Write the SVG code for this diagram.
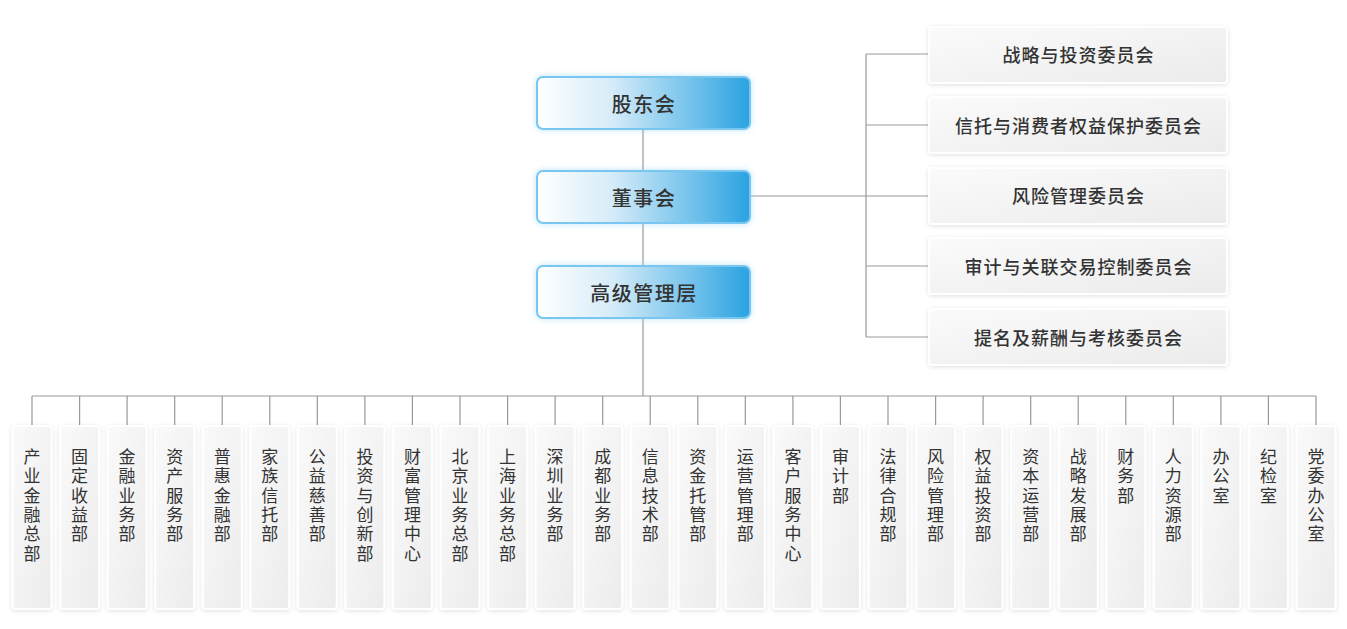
<svg xmlns="http://www.w3.org/2000/svg" width="1347" height="629" viewBox="0 0 1347 629">
<defs>
<linearGradient id="gBlue" x1="0" y1="0" x2="1" y2="0">
<stop offset="0" stop-color="#ffffff"/>
<stop offset="0.35" stop-color="#d6ecf9"/>
<stop offset="1" stop-color="#2aa3e1"/>
</linearGradient>
<linearGradient id="gGray" x1="0" y1="0" x2="1" y2="1">
<stop offset="0" stop-color="#fbfbfb"/>
<stop offset="1" stop-color="#ebebeb"/>
</linearGradient>
<linearGradient id="gCol" x1="0" y1="0" x2="1" y2="1">
<stop offset="0" stop-color="#fafafa"/>
<stop offset="1" stop-color="#ececec"/>
</linearGradient>
<filter id="glow" x="-20%" y="-50%" width="140%" height="200%">
<feDropShadow dx="0" dy="0" stdDeviation="3" flood-color="#8fd0f5" flood-opacity="0.6"/>
</filter>
<filter id="shadow" x="-20%" y="-20%" width="140%" height="140%">
<feDropShadow dx="0" dy="1" stdDeviation="2" flood-color="#000" flood-opacity="0.12"/>
</filter>
</defs>
<style>
.ln{stroke:#999;stroke-width:1.2;fill:none}
.top{fill:url(#gBlue);stroke:#79c6f0;stroke-width:2;filter:url(#glow)}
.cm{fill:url(#gGray);stroke:#fff;stroke-width:2;filter:url(#shadow)}
.col{fill:url(#gCol);stroke:#fff;stroke-width:2;filter:url(#shadow)}
text{font-family:"Noto Sans CJK SC","Noto Sans",sans-serif;fill:#333}
.t1{font-size:20px;font-weight:500;letter-spacing:1.5px;text-anchor:middle;dominant-baseline:central}
.t2{font-size:18px;font-weight:500;letter-spacing:1px;text-anchor:middle;dominant-baseline:central}
.t3{font-size:17px;text-anchor:middle}
</style>
<rect width="1347" height="629" fill="#fff"/>
<g id="connectors">
<path class="ln" d="M643 129V171M643 223V266M643 318V396M751 196H866M866 54V337M866 54H929M866 125H929M866 196H929M866 266H929M866 337H929"/>
<path class="ln" d="M32 396H1316M32 396V426M79.6 396V426M127.1 396V426M174.7 396V426M222.2 396V426M269.8 396V426M317.3 396V426M364.9 396V426M412.4 396V426M460 396V426M507.6 396V426M555.1 396V426M602.7 396V426M650.2 396V426M697.8 396V426M745.3 396V426M792.9 396V426M840.4 396V426M888 396V426M935.6 396V426M983.1 396V426M1030.7 396V426M1078.2 396V426M1125.8 396V426M1173.3 396V426M1220.9 396V426M1268.4 396V426M1316 396V426"/>
</g>
<g id="n-gudonghui"><rect class="top" x="537" y="77" width="213" height="52" rx="6"/><text class="t1" x="644" y="103">股东会</text></g>
<g id="n-dongshihui"><rect class="top" x="537" y="171" width="213" height="52" rx="6"/><text class="t1" x="644" y="197">董事会</text></g>
<g id="n-gaoguan"><rect class="top" x="537" y="266" width="213" height="52" rx="6"/><text class="t1" x="644" y="292">高级管理层</text></g>
<g id="c1"><rect class="cm" x="929" y="27" width="298" height="56" rx="3"/><text class="t2" x="1078.5" y="54">战略与投资委员会</text></g>
<g id="c2"><rect class="cm" x="929" y="97" width="298" height="56" rx="3"/><text class="t2" x="1078.5" y="125">信托与消费者权益保护委员会</text></g>
<g id="c3"><rect class="cm" x="929" y="168" width="298" height="56" rx="3"/><text class="t2" x="1078.5" y="195">风险管理委员会</text></g>
<g id="c4"><rect class="cm" x="929" y="238" width="298" height="56" rx="3"/><text class="t2" x="1078.5" y="266">审计与关联交易控制委员会</text></g>
<g id="c5"><rect class="cm" x="929" y="309" width="298" height="56" rx="3"/><text class="t2" x="1078.5" y="337">提名及薪酬与考核委员会</text></g>
<g id="d1"><rect class="col" x="12.5" y="426" width="39" height="183" rx="3"/><text class="t3" x="32" y="463"><tspan x="32">产</tspan><tspan x="32" dy="19.3">业</tspan><tspan x="32" dy="19.3">金</tspan><tspan x="32" dy="19.3">融</tspan><tspan x="32" dy="19.3">总</tspan><tspan x="32" dy="19.3">部</tspan></text></g>
<g id="d2"><rect class="col" x="60.1" y="426" width="39" height="183" rx="3"/><text class="t3" x="79.6" y="463"><tspan x="79.6">固</tspan><tspan x="79.6" dy="19.3">定</tspan><tspan x="79.6" dy="19.3">收</tspan><tspan x="79.6" dy="19.3">益</tspan><tspan x="79.6" dy="19.3">部</tspan></text></g>
<g id="d3"><rect class="col" x="107.6" y="426" width="39" height="183" rx="3"/><text class="t3" x="127.1" y="463"><tspan x="127.1">金</tspan><tspan x="127.1" dy="19.3">融</tspan><tspan x="127.1" dy="19.3">业</tspan><tspan x="127.1" dy="19.3">务</tspan><tspan x="127.1" dy="19.3">部</tspan></text></g>
<g id="d4"><rect class="col" x="155.2" y="426" width="39" height="183" rx="3"/><text class="t3" x="174.7" y="463"><tspan x="174.7">资</tspan><tspan x="174.7" dy="19.3">产</tspan><tspan x="174.7" dy="19.3">服</tspan><tspan x="174.7" dy="19.3">务</tspan><tspan x="174.7" dy="19.3">部</tspan></text></g>
<g id="d5"><rect class="col" x="202.7" y="426" width="39" height="183" rx="3"/><text class="t3" x="222.2" y="463"><tspan x="222.2">普</tspan><tspan x="222.2" dy="19.3">惠</tspan><tspan x="222.2" dy="19.3">金</tspan><tspan x="222.2" dy="19.3">融</tspan><tspan x="222.2" dy="19.3">部</tspan></text></g>
<g id="d6"><rect class="col" x="250.3" y="426" width="39" height="183" rx="3"/><text class="t3" x="269.8" y="463"><tspan x="269.8">家</tspan><tspan x="269.8" dy="19.3">族</tspan><tspan x="269.8" dy="19.3">信</tspan><tspan x="269.8" dy="19.3">托</tspan><tspan x="269.8" dy="19.3">部</tspan></text></g>
<g id="d7"><rect class="col" x="297.8" y="426" width="39" height="183" rx="3"/><text class="t3" x="317.3" y="463"><tspan x="317.3">公</tspan><tspan x="317.3" dy="19.3">益</tspan><tspan x="317.3" dy="19.3">慈</tspan><tspan x="317.3" dy="19.3">善</tspan><tspan x="317.3" dy="19.3">部</tspan></text></g>
<g id="d8"><rect class="col" x="345.4" y="426" width="39" height="183" rx="3"/><text class="t3" x="364.9" y="463"><tspan x="364.9">投</tspan><tspan x="364.9" dy="19.3">资</tspan><tspan x="364.9" dy="19.3">与</tspan><tspan x="364.9" dy="19.3">创</tspan><tspan x="364.9" dy="19.3">新</tspan><tspan x="364.9" dy="19.3">部</tspan></text></g>
<g id="d9"><rect class="col" x="392.9" y="426" width="39" height="183" rx="3"/><text class="t3" x="412.4" y="463"><tspan x="412.4">财</tspan><tspan x="412.4" dy="19.3">富</tspan><tspan x="412.4" dy="19.3">管</tspan><tspan x="412.4" dy="19.3">理</tspan><tspan x="412.4" dy="19.3">中</tspan><tspan x="412.4" dy="19.3">心</tspan></text></g>
<g id="d10"><rect class="col" x="440.5" y="426" width="39" height="183" rx="3"/><text class="t3" x="460" y="463"><tspan x="460">北</tspan><tspan x="460" dy="19.3">京</tspan><tspan x="460" dy="19.3">业</tspan><tspan x="460" dy="19.3">务</tspan><tspan x="460" dy="19.3">总</tspan><tspan x="460" dy="19.3">部</tspan></text></g>
<g id="d11"><rect class="col" x="488.1" y="426" width="39" height="183" rx="3"/><text class="t3" x="507.6" y="463"><tspan x="507.6">上</tspan><tspan x="507.6" dy="19.3">海</tspan><tspan x="507.6" dy="19.3">业</tspan><tspan x="507.6" dy="19.3">务</tspan><tspan x="507.6" dy="19.3">总</tspan><tspan x="507.6" dy="19.3">部</tspan></text></g>
<g id="d12"><rect class="col" x="535.6" y="426" width="39" height="183" rx="3"/><text class="t3" x="555.1" y="463"><tspan x="555.1">深</tspan><tspan x="555.1" dy="19.3">圳</tspan><tspan x="555.1" dy="19.3">业</tspan><tspan x="555.1" dy="19.3">务</tspan><tspan x="555.1" dy="19.3">部</tspan></text></g>
<g id="d13"><rect class="col" x="583.2" y="426" width="39" height="183" rx="3"/><text class="t3" x="602.7" y="463"><tspan x="602.7">成</tspan><tspan x="602.7" dy="19.3">都</tspan><tspan x="602.7" dy="19.3">业</tspan><tspan x="602.7" dy="19.3">务</tspan><tspan x="602.7" dy="19.3">部</tspan></text></g>
<g id="d14"><rect class="col" x="630.7" y="426" width="39" height="183" rx="3"/><text class="t3" x="650.2" y="463"><tspan x="650.2">信</tspan><tspan x="650.2" dy="19.3">息</tspan><tspan x="650.2" dy="19.3">技</tspan><tspan x="650.2" dy="19.3">术</tspan><tspan x="650.2" dy="19.3">部</tspan></text></g>
<g id="d15"><rect class="col" x="678.3" y="426" width="39" height="183" rx="3"/><text class="t3" x="697.8" y="463"><tspan x="697.8">资</tspan><tspan x="697.8" dy="19.3">金</tspan><tspan x="697.8" dy="19.3">托</tspan><tspan x="697.8" dy="19.3">管</tspan><tspan x="697.8" dy="19.3">部</tspan></text></g>
<g id="d16"><rect class="col" x="725.8" y="426" width="39" height="183" rx="3"/><text class="t3" x="745.3" y="463"><tspan x="745.3">运</tspan><tspan x="745.3" dy="19.3">营</tspan><tspan x="745.3" dy="19.3">管</tspan><tspan x="745.3" dy="19.3">理</tspan><tspan x="745.3" dy="19.3">部</tspan></text></g>
<g id="d17"><rect class="col" x="773.4" y="426" width="39" height="183" rx="3"/><text class="t3" x="792.9" y="463"><tspan x="792.9">客</tspan><tspan x="792.9" dy="19.3">户</tspan><tspan x="792.9" dy="19.3">服</tspan><tspan x="792.9" dy="19.3">务</tspan><tspan x="792.9" dy="19.3">中</tspan><tspan x="792.9" dy="19.3">心</tspan></text></g>
<g id="d18"><rect class="col" x="820.9" y="426" width="39" height="183" rx="3"/><text class="t3" x="840.4" y="463"><tspan x="840.4">审</tspan><tspan x="840.4" dy="19.3">计</tspan><tspan x="840.4" dy="19.3">部</tspan></text></g>
<g id="d19"><rect class="col" x="868.5" y="426" width="39" height="183" rx="3"/><text class="t3" x="888" y="463"><tspan x="888">法</tspan><tspan x="888" dy="19.3">律</tspan><tspan x="888" dy="19.3">合</tspan><tspan x="888" dy="19.3">规</tspan><tspan x="888" dy="19.3">部</tspan></text></g>
<g id="d20"><rect class="col" x="916.1" y="426" width="39" height="183" rx="3"/><text class="t3" x="935.6" y="463"><tspan x="935.6">风</tspan><tspan x="935.6" dy="19.3">险</tspan><tspan x="935.6" dy="19.3">管</tspan><tspan x="935.6" dy="19.3">理</tspan><tspan x="935.6" dy="19.3">部</tspan></text></g>
<g id="d21"><rect class="col" x="963.6" y="426" width="39" height="183" rx="3"/><text class="t3" x="983.1" y="463"><tspan x="983.1">权</tspan><tspan x="983.1" dy="19.3">益</tspan><tspan x="983.1" dy="19.3">投</tspan><tspan x="983.1" dy="19.3">资</tspan><tspan x="983.1" dy="19.3">部</tspan></text></g>
<g id="d22"><rect class="col" x="1011.2" y="426" width="39" height="183" rx="3"/><text class="t3" x="1030.7" y="463"><tspan x="1030.7">资</tspan><tspan x="1030.7" dy="19.3">本</tspan><tspan x="1030.7" dy="19.3">运</tspan><tspan x="1030.7" dy="19.3">营</tspan><tspan x="1030.7" dy="19.3">部</tspan></text></g>
<g id="d23"><rect class="col" x="1058.7" y="426" width="39" height="183" rx="3"/><text class="t3" x="1078.2" y="463"><tspan x="1078.2">战</tspan><tspan x="1078.2" dy="19.3">略</tspan><tspan x="1078.2" dy="19.3">发</tspan><tspan x="1078.2" dy="19.3">展</tspan><tspan x="1078.2" dy="19.3">部</tspan></text></g>
<g id="d24"><rect class="col" x="1106.3" y="426" width="39" height="183" rx="3"/><text class="t3" x="1125.8" y="463"><tspan x="1125.8">财</tspan><tspan x="1125.8" dy="19.3">务</tspan><tspan x="1125.8" dy="19.3">部</tspan></text></g>
<g id="d25"><rect class="col" x="1153.8" y="426" width="39" height="183" rx="3"/><text class="t3" x="1173.3" y="463"><tspan x="1173.3">人</tspan><tspan x="1173.3" dy="19.3">力</tspan><tspan x="1173.3" dy="19.3">资</tspan><tspan x="1173.3" dy="19.3">源</tspan><tspan x="1173.3" dy="19.3">部</tspan></text></g>
<g id="d26"><rect class="col" x="1201.4" y="426" width="39" height="183" rx="3"/><text class="t3" x="1220.9" y="463"><tspan x="1220.9">办</tspan><tspan x="1220.9" dy="19.3">公</tspan><tspan x="1220.9" dy="19.3">室</tspan></text></g>
<g id="d27"><rect class="col" x="1248.9" y="426" width="39" height="183" rx="3"/><text class="t3" x="1268.4" y="463"><tspan x="1268.4">纪</tspan><tspan x="1268.4" dy="19.3">检</tspan><tspan x="1268.4" dy="19.3">室</tspan></text></g>
<g id="d28"><rect class="col" x="1296.5" y="426" width="39" height="183" rx="3"/><text class="t3" x="1316" y="463"><tspan x="1316">党</tspan><tspan x="1316" dy="19.3">委</tspan><tspan x="1316" dy="19.3">办</tspan><tspan x="1316" dy="19.3">公</tspan><tspan x="1316" dy="19.3">室</tspan></text></g>
</svg>
